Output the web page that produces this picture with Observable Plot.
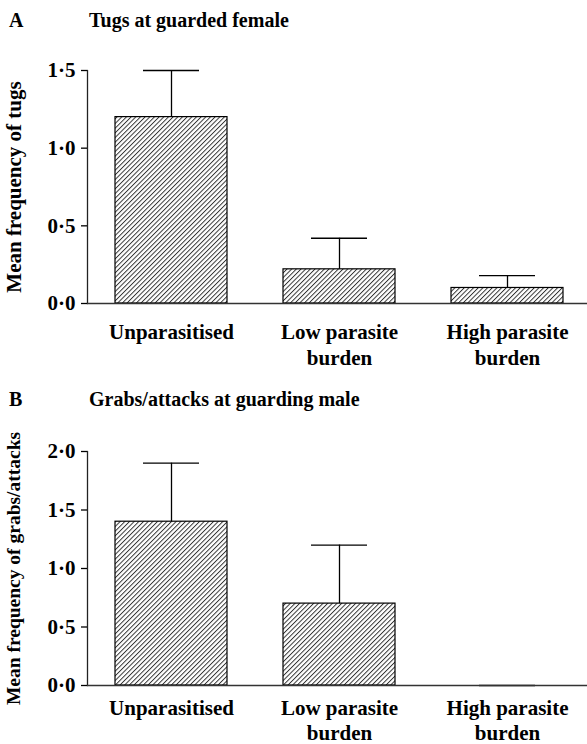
<!DOCTYPE html>
<html><head><meta charset="utf-8">
<script src="https://cdn.jsdelivr.net/npm/d3@7"></script>
<script src="https://cdn.jsdelivr.net/npm/@observablehq/plot@0.6"></script>
<style>
body{margin:0;background:#fff;font-family:"Liberation Serif","Times New Roman",serif;}
#wrap{position:relative;width:587px;height:744px;overflow:hidden;}
.t{position:absolute;font-weight:bold;font-size:20px;line-height:1;white-space:nowrap;color:#000;z-index:2;}
</style></head><body>
<div id="wrap">
  <div class="t" style="left:9px;top:10px;">A</div>
  <div class="t" style="left:89px;top:10px;">Tugs at guarded female</div>
  <div class="t" style="left:9px;top:389px;">B</div>
  <div class="t" style="left:89px;top:389px;">Grabs/attacks at guarding male</div>
</div>
<script>
const categories = ["Unparasitised", "Low parasite\nburden", "High parasite\nburden"];
const tugsMean = [1.2, 0.22, 0.10];
const tugsUpper = [1.5, 0.42, 0.18];
const grabsMean = [1.4, 0.70, 0.0];
const grabsUpper = [1.9, 1.2, 0.0];
const tugsTicks = [0, 0.5, 1.0, 1.5];
const grabsTicks = [0, 0.5, 1.0, 1.5, 2.0];

const fmt = d => d.toFixed(1).replace(".", "\u00B7");

function panel({means, uppers, ticks, ymax, label, labelSize, id, top, height, marginTop, marginBottom, xPad, lh}) {
  const data = categories.map((c, i) => ({cat: c, mean: means[i], upper: uppers[i]}));
  const svg = Plot.plot({
    width: 587,
    height,
    marginTop,
    marginBottom,
    marginLeft: 87,
    marginRight: -4,
    style: {fontFamily: '"Liberation Serif","Times New Roman",serif', fontWeight: "bold", fontSize: "21px", color: "#000", background: "transparent", overflow: "visible"},
    x: {domain: categories, paddingInner: 1/3, paddingOuter: 1/6},
    y: {domain: [0, ymax]},
    marks: [
      Plot.barY(data.filter(d => d.mean > 0), {x: "cat", y: "mean", fill: `url(#${id})`, stroke: "#000", strokeWidth: 1.2}),
      Plot.ruleX(data, {x: "cat", y1: "mean", y2: "upper", stroke: "#000", strokeWidth: 1.3}),
      Plot.tickY(data, {x: "cat", y: "upper", insetLeft: 28, insetRight: 28, stroke: "#000", strokeWidth: 1.3}),
      Plot.frame({anchor: "left", stroke: "#222", strokeWidth: 1.3}),
      Plot.frame({anchor: "bottom", stroke: "#333", strokeWidth: 1.3}),
      Plot.axisY({ticks, tickFormat: fmt, tickSize: 6, tickPadding: 6, fontSize: 21, fontWeight: "bold", strokeWidth: 1.3, label: null}),
      Plot.axisY({ticks: [], tickSize: 0, label, labelAnchor: "center", labelOffset: 81, labelArrow: "none", fontSize: labelSize, fontWeight: "bold"}),
      Plot.axisX({tickSize: 0, tickPadding: xPad, fontSize: 21, fontWeight: "bold", lineHeight: lh, label: null})
    ]
  });
  const ns = "http://www.w3.org/2000/svg";
  const defs = document.createElementNS(ns, "defs");
  defs.innerHTML = `<pattern id="${id}" patternUnits="userSpaceOnUse" width="3.3" height="3.3" patternTransform="rotate(45)">
    <rect width="3.3" height="3.3" fill="#fff"/><line x1="0.5" y1="0" x2="0.5" y2="3.3" stroke="#222" stroke-width="0.9"/></pattern>`;
  svg.insertBefore(defs, svg.firstChild);
  svg.style.position = "absolute";
  svg.style.left = "0px";
  svg.style.top = top + "px";
  document.getElementById("wrap").appendChild(svg);
}

panel({means: tugsMean, uppers: tugsUpper, ticks: tugsTicks, ymax: 1.5, label: "Mean frequency of tugs", labelSize: 21,
  id: "hatchA", top: 0, height: 375, marginTop: 70, marginBottom: 72, xPad: 17, lh: 1.24});
panel({means: grabsMean, uppers: grabsUpper, ticks: grabsTicks, ymax: 2.0, label: "Mean frequency of grabs/attacks", labelSize: 19.5,
  id: "hatchB", top: 375, height: 369, marginTop: 76, marginBottom: 59, xPad: 12, lh: 1.19});
</script>
</body></html>
